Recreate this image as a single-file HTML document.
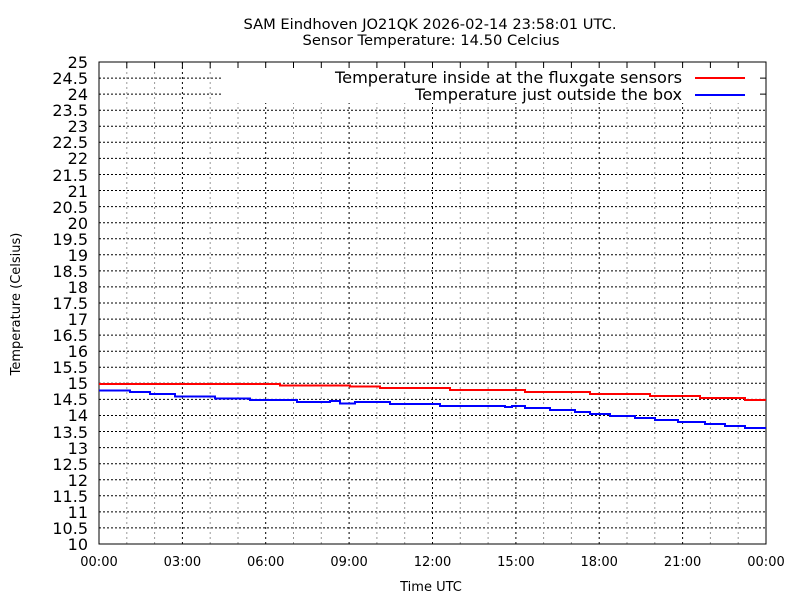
<!DOCTYPE html>
<html><head><meta charset="utf-8"><style>html,body{margin:0;padding:0;background:#fff}svg{display:block}</style></head>
<body>
<svg width="800" height="600" viewBox="0 0 800 600" xmlns="http://www.w3.org/2000/svg" font-family="DejaVu Sans, Liberation Sans, sans-serif">
<rect width="800" height="600" fill="#fff"/>
<g stroke="#000" stroke-width="1" stroke-dasharray="2,2" fill="none">
<path d="M99 527.9H766M99 511.9H766M99 495.8H766M99 479.7H766M99 463.7H766M99 447.6H766M99 431.5H766M99 415.5H766M99 399.4H766M99 383.3H766M99 367.3H766M99 351.2H766M99 335.1H766M99 319.1H766M99 303H766M99 286.9H766M99 270.9H766M99 254.8H766M99 238.7H766M99 222.7H766M99 206.6H766M99 190.5H766M99 174.5H766M99 158.4H766M99 142.3H766M99 126.3H766M99 110.2H766M99 94.1H221M99 78.1H221"/>
</g>
<g stroke="#999" stroke-width="1" stroke-dasharray="2,3" fill="none">
<path d="M126.8 62V544M154.6 62V544M210.2 62V544M238 62V544M293.5 62V544M321.3 62V544M376.9 62V544M404.7 62V544M460.3 62V544M488.1 62V544M543.6 62V544M571.4 62V544M627 62V544M654.8 62V544M710.4 62V544M738.2 62V544"/>
</g>
<g stroke="#000" stroke-width="1" stroke-dasharray="2,3" fill="none">
<path d="M182.4 62V544M265.7 62V544M349.1 62V544M432.5 62V544M515.9 62V544M599.2 62V544M682.6 62V544"/>
</g>
<rect x="222" y="63" width="543" height="40" fill="#fff"/>
<g stroke="#000" stroke-width="1">
<path d="M126.8 62v6M154.6 62v6M182.4 62v6M210.2 62v6M238 62v6M265.7 62v6M293.5 62v6M321.3 62v6M349.1 62v6M376.9 62v6M404.7 62v6M432.5 62v6M460.3 62v6M488.1 62v6M515.9 62v6M543.6 62v6M571.4 62v6M599.2 62v6M627 62v6M654.8 62v6M682.6 62v6M710.4 62v6M738.2 62v6M766 78.1h-6M766 94.1h-6"/>
</g>
<rect x="99" y="62" width="667" height="482" fill="none" stroke="#000" stroke-width="1"/>
<polyline fill="none" stroke="#f00" stroke-width="2" points="99,384 280,384 280,385.5 350,385.5 350,386.5 380,386.5 380,388 450,388 450,390 525,390 525,392 590,392 590,394 650,394 650,396 700,396 700,398 745,398 745,400 766,400"/>
<polyline fill="none" stroke="#00f" stroke-width="2" points="99,390.5 130,390.5 130,392 150,392 150,394 175,394 175,396.5 215,396.5 215,398.5 250,398.5 250,400 297,400 297,402 330,402 330,401 340,401 340,403.5 355,403.5 355,402 390,402 390,404 440,404 440,406 505,406 505,407 512,407 512,406 525,406 525,408 550,408 550,410 575,410 575,412 590,412 590,414 610,414 610,416 635,416 635,418 655,418 655,420 678,420 678,422 705,422 705,424 725,424 725,426 745,426 745,428 766,428"/>
<g font-size="16" fill="#000" text-anchor="end">
<text x="88" y="550">10</text><text x="88" y="534">10.5</text><text x="88" y="518">11</text><text x="88" y="502">11.5</text><text x="88" y="486">12</text><text x="88" y="470">12.5</text><text x="88" y="454">13</text><text x="88" y="438">13.5</text><text x="88" y="421">14</text><text x="88" y="405">14.5</text><text x="88" y="389">15</text><text x="88" y="373">15.5</text><text x="88" y="357">16</text><text x="88" y="341">16.5</text><text x="88" y="325">17</text><text x="88" y="309">17.5</text><text x="88" y="293">18</text><text x="88" y="277">18.5</text><text x="88" y="261">19</text><text x="88" y="245">19.5</text><text x="88" y="229">20</text><text x="88" y="213">20.5</text><text x="88" y="197">21</text><text x="88" y="181">21.5</text><text x="88" y="164">22</text><text x="88" y="148">22.5</text><text x="88" y="132">23</text><text x="88" y="116">23.5</text><text x="88" y="100">24</text><text x="88" y="84">24.5</text><text x="88" y="68">25</text>
</g>
<g font-size="13" fill="#000" text-anchor="middle">
<text x="99" y="566">00:00</text><text x="182.4" y="566">03:00</text><text x="265.7" y="566">06:00</text><text x="349.1" y="566">09:00</text><text x="432.5" y="566">12:00</text><text x="515.9" y="566">15:00</text><text x="599.2" y="566">18:00</text><text x="682.6" y="566">21:00</text><text x="766" y="566">00:00</text>
<text x="431" y="591">Time UTC</text>
<text x="430" y="29" font-size="14" textLength="373" lengthAdjust="spacingAndGlyphs">SAM Eindhoven JO21QK 2026-02-14 23:58:01 UTC.</text>
<text x="431" y="45" font-size="14" textLength="257" lengthAdjust="spacingAndGlyphs">Sensor Temperature: 14.50 Celcius</text>
<text transform="translate(20,304) rotate(-90)">Temperature (Celsius)</text>
</g>
<g font-size="16" fill="#000" text-anchor="end">
<text x="682" y="83" textLength="347" lengthAdjust="spacingAndGlyphs">Temperature inside at the fluxgate sensors</text>
<text x="682" y="100" textLength="267" lengthAdjust="spacingAndGlyphs">Temperature just outside the box</text>
</g>
<path d="M695 78H745" stroke="#f00" stroke-width="2"/>
<path d="M695 95H745" stroke="#00f" stroke-width="2"/>
</svg>
</body></html>
